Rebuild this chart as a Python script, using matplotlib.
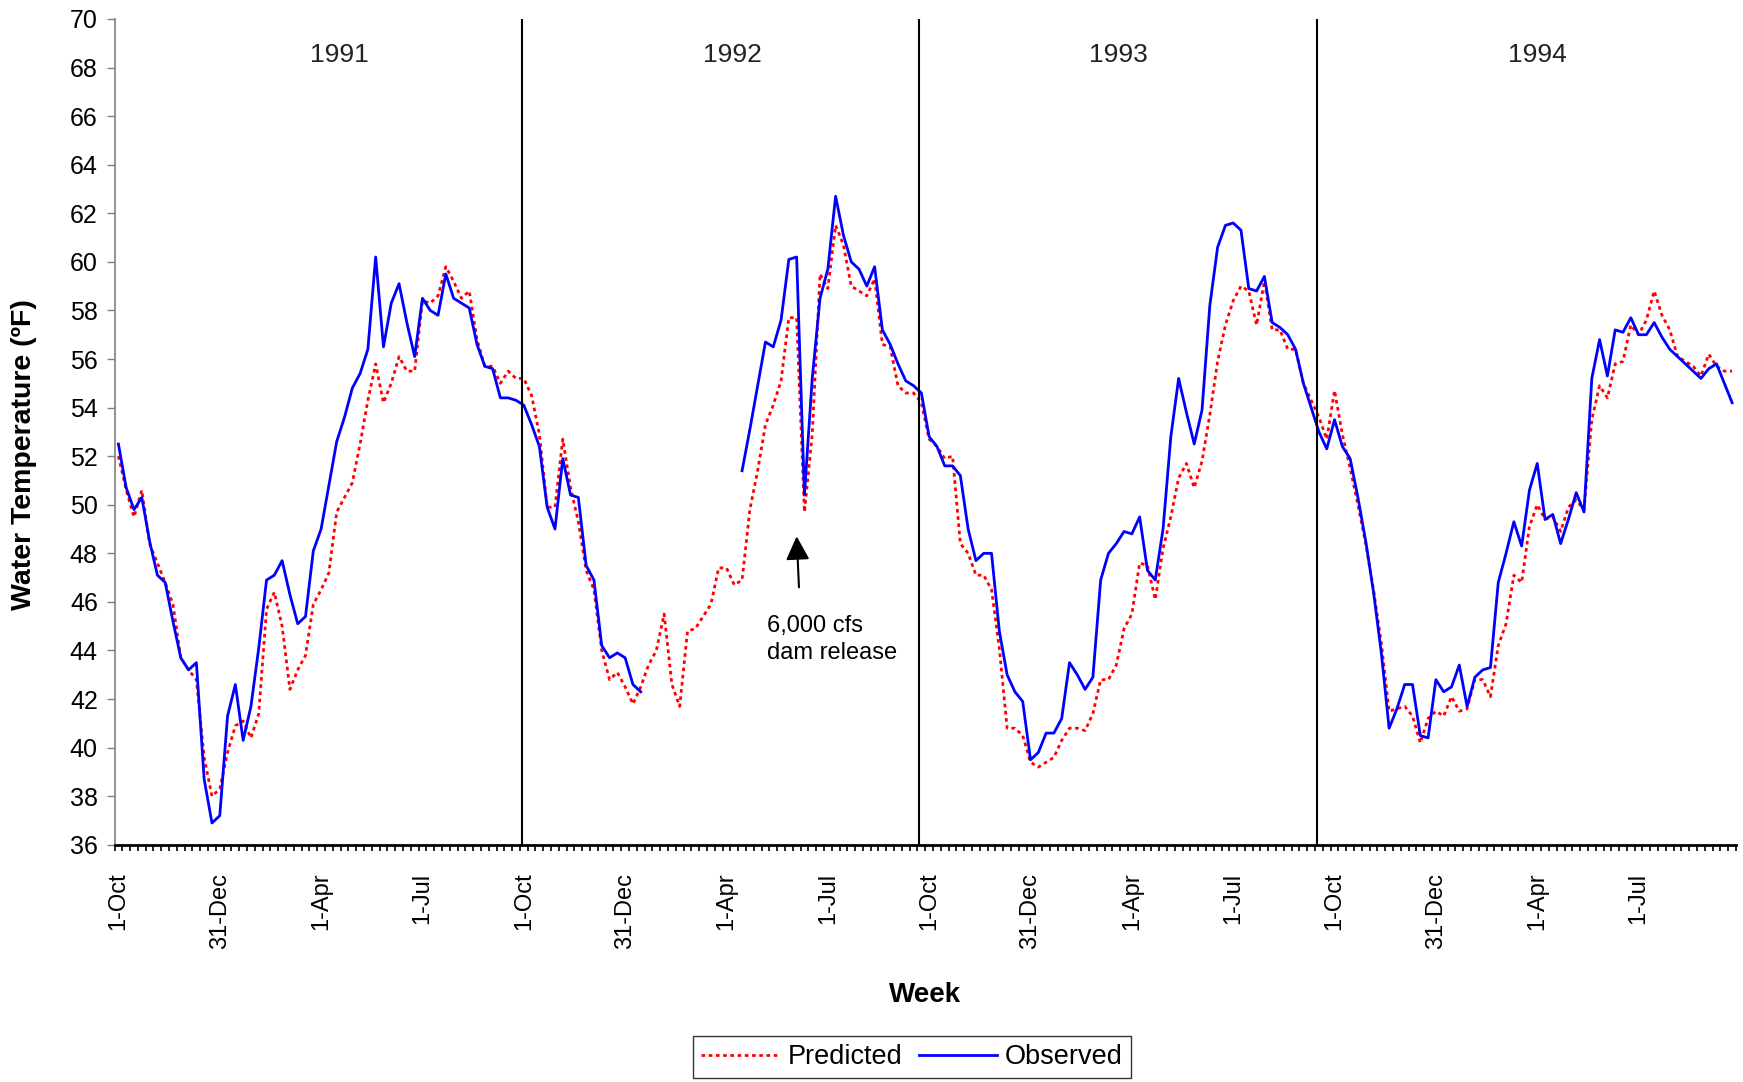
import numpy as np
import matplotlib
matplotlib.use('Agg')
import matplotlib.pyplot as plt

plt.rcParams['font.family'] = ['Liberation Sans', 'DejaVu Sans']

# Недельные значения, водные годы 1991-1994 (52 недели, начиная с 1-Oct)
obs_1991 = [52.5, 50.7, 49.8, 50.3, 48.5, 47.1, 46.8, 45.2, 43.7, 43.2, 43.5, 38.7, 36.9,
            37.2, 41.3, 42.6, 40.3, 41.7, 44.1, 46.9, 47.1, 47.7, 46.3, 45.1, 45.4, 48.1,
            49.0, 50.8, 52.6, 53.6, 54.8, 55.4, 56.4, 60.2, 56.5, 58.3, 59.1, 57.5, 56.1,
            58.5, 58.0, 57.8, 59.5, 58.5, 58.3, 58.1, 56.6, 55.7, 55.6, 54.4, 54.4, 54.3]
pred_1991 = [52.0, 50.6, 49.5, 50.6, 48.4, 47.6, 46.8, 45.9, 43.7, 43.2, 42.8, 39.6, 38.0,
             38.3, 39.8, 40.9, 41.1, 40.4, 41.4, 45.7, 46.4, 45.0, 42.4, 43.2, 43.8, 45.9,
             46.5, 47.2, 49.7, 50.3, 50.9, 52.5, 54.3, 55.8, 54.2, 55.0, 56.1, 55.5, 55.5,
             58.4, 58.3, 58.6, 59.8, 59.2, 58.5, 58.8, 56.8, 55.7, 55.7, 55.0, 55.5, 55.2]

# в 1992 нет наблюдений примерно с января по апрель
obs_1992 = [54.1, 53.3, 52.4, 49.9, 49.0, 51.9, 50.4, 50.3, 47.5, 46.9, 44.2, 43.7, 43.9,
            43.7, 42.6, 42.3] + [None] * 12 + \
           [51.4, 53.1, 54.9, 56.7, 56.5, 57.6, 60.1, 60.2, 50.4, 55.2, 58.5, 59.7, 62.7,
            61.1, 60.0, 59.7, 59.0, 59.8, 57.2, 56.6, 55.8, 55.1, 54.9, 54.6]
pred_1992 = [55.2, 54.5, 52.9, 49.9, 49.9, 52.7, 50.7, 49.3, 47.3, 46.5, 44.0, 42.8, 43.1,
             42.5, 41.8, 42.5, 43.4, 44.0, 45.5, 42.6, 41.7, 44.8, 44.9, 45.4, 45.9, 47.4,
             47.4, 46.7, 46.9, 49.8, 51.4, 53.3, 54.1, 55.1, 57.7, 57.7, 49.7, 52.9, 59.5,
             58.9, 61.5, 60.7, 59.0, 58.8, 58.6, 59.3, 56.6, 56.5, 54.9, 54.6, 54.6, 54.2]

obs_1993 = [52.8, 52.4, 51.6, 51.6, 51.2, 49.0, 47.7, 48.0, 48.0, 44.8, 43.0, 42.3, 41.9,
            39.5, 39.8, 40.6, 40.6, 41.2, 43.5, 43.0, 42.4, 42.9, 46.9, 48.0, 48.4, 48.9,
            48.8, 49.5, 47.3, 46.9, 49.0, 52.8, 55.2, 53.8, 52.5, 53.9, 58.2, 60.6, 61.5,
            61.6, 61.3, 58.9, 58.8, 59.4, 57.5, 57.3, 57.0, 56.4, 55.0, 54.0, 53.0, 52.3]
pred_1993 = [52.7, 52.4, 51.9, 52.0, 48.4, 48.0, 47.1, 47.1, 46.5, 44.1, 40.8, 40.8, 40.5,
             39.4, 39.2, 39.4, 39.6, 40.3, 40.8, 40.8, 40.7, 41.4, 42.8, 42.8, 43.4, 44.9,
             45.5, 47.6, 47.5, 46.1, 48.2, 49.5, 51.1, 51.7, 50.7, 51.8, 53.7, 55.9, 57.4,
             58.4, 59.0, 58.8, 57.4, 59.2, 57.2, 57.2, 56.4, 56.4, 55.0, 54.3, 53.6, 52.7]

obs_1994 = [53.5, 52.4, 51.9, 50.3, 48.5, 46.4, 43.9, 40.8, 41.6, 42.6, 42.6, 40.5, 40.4,
            42.8, 42.3, 42.5, 43.4, 41.7, 42.9, 43.2, 43.3, 46.8, 48.0, 49.3, 48.3, 50.6,
            51.7, 49.4, 49.6, 48.4, 49.4, 50.5, 49.7, 55.2, 56.8, 55.3, 57.2, 57.1, 57.7,
            57.0, 57.0, 57.5, 56.9, 56.4, 56.1, 55.8, 55.5, 55.2, 55.6, 55.8, 55.0, 54.2]
pred_1994 = [54.7, 52.9, 51.5, 50.0, 48.4, 46.5, 44.3, 41.5, 41.6, 41.7, 41.3, 40.2, 41.2,
             41.5, 41.3, 42.1, 41.5, 41.6, 42.8, 42.8, 42.1, 44.2, 45.1, 47.1, 46.8, 49.1,
             50.0, 49.4, 49.5, 48.9, 49.9, 50.2, 49.8, 53.5, 54.9, 54.4, 55.8, 55.9, 57.4,
             57.0, 57.6, 58.8, 57.8, 57.2, 56.1, 55.9, 55.7, 55.3, 56.2, 55.7, 55.5, 55.5]

observed = np.array(obs_1991 + obs_1992 + obs_1993 + obs_1994, dtype=float)
predicted = np.array(pred_1991 + pred_1992 + pred_1993 + pred_1994, dtype=float)
weeks = np.arange(len(predicted))

# Подписи оси X (каждые 13 недель)
tick_names = ['1-Oct', '31-Dec', '1-Apr', '1-Jul'] * 4
tick_weeks = np.arange(0, len(weeks), 13)

years = ['1991', '1992', '1993', '1994']
year_label_x = [28.3, 78.8, 128.3, 182.0]
year_lines = [51.8, 102.7, 153.7]

fig = plt.figure(figsize=(17.43, 10.82), dpi=100)
ax = fig.add_axes([0.0657, 0.2192, 0.9303, 0.7633])

ax.plot(weeks, predicted, color='red', lw=2.0, linestyle=(0, (1.3, 1.3)), label='Predicted')
ax.plot(weeks, observed, color='blue', lw=2.0, label='Observed')

for xv in year_lines:
    ax.axvline(xv, color='black', lw=1.5)

for name, xv in zip(years, year_label_x):
    ax.text(xv, 68.5, name, ha='center', va='center', fontsize=19, color='#222222')

ax.annotate('', xy=(87.0, 48.7), xytext=(87.3, 46.6),
            arrowprops=dict(arrowstyle='-|>,head_length=0.72,head_width=0.36',
                            mutation_scale=20, lw=1.5, color='black',
                            shrinkA=0, shrinkB=0))
ax.text(83.2, 44.45, '6,000 cfs\ndam release', ha='left', va='center',
        fontsize=17, linespacing=1.3)

ax.set_xlim(-0.5, len(weeks) - 0.5)
ax.set_ylim(36, 70)
ax.set_yticks(np.arange(36, 71, 2))
ax.set_xticks(tick_weeks)
ax.set_xticklabels(tick_names, rotation=90)
ax.set_xticks(np.arange(-0.5, len(weeks), 1), minor=True)

ax.tick_params(axis='y', direction='out', length=6, width=1, color='#808080',
               labelsize=18, pad=6)
ax.tick_params(axis='x', which='major', length=0, labelsize=17, pad=20)
ax.tick_params(axis='x', which='minor', direction='out', length=4, width=1.2, color='black')

ax.spines['top'].set_visible(False)
ax.spines['right'].set_visible(False)
ax.spines['left'].set_color('#808080')
ax.spines['left'].set_linewidth(1.2)
ax.spines['bottom'].set_linewidth(2.0)

fig.text(925 / 1743, 1 - 995 / 1082, 'Week', ha='center', va='center',
         fontsize=20, fontweight='bold')
fig.text(24.5 / 1743, 1 - 454.6 / 1082, 'Water Temperature (ºF)', ha='center', va='center',
         rotation=90, fontsize=20.5, fontweight='bold')

leg = fig.legend(loc='center', bbox_to_anchor=(0.5232, 0.0231), ncol=2, frameon=True,
                 fancybox=False, edgecolor='black', fontsize=19.5, handlelength=2.9,
                 columnspacing=0.6, handletextpad=0.3, borderpad=0.3)
leg.get_frame().set_linewidth(1.0)

fig.savefig('out.png', dpi=100)
